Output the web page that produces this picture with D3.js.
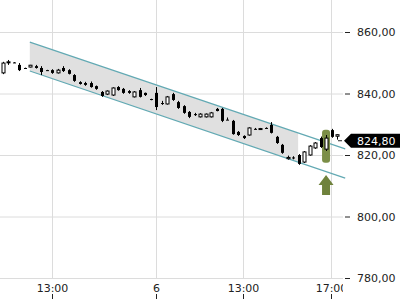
<!DOCTYPE html>
<html>
<head>
<meta charset="utf-8">
<script src="https://cdn.jsdelivr.net/npm/d3@7"></script>
<style>
  body { margin: 0; background: #fff; }
  svg { display: block; font-family: "DejaVu Sans", sans-serif; }
</style>
</head>
<body>
<div id="chart"></div>
<script>
// 15-min candles, one slot per candle
const opens  = [846.7,850.2,850.1,849.3,848.3,848.6,848.9,848.3,847.6,847.6,846.7,848.3,847.6,846.0,843.7,843.4,843.4,842.4,840.5,839.8,839.5,842.1,841.5,840.8,838.9,841.1,840.2,838.2,840.2,836.9,836.6,839.8,837.2,835.9,834.0,833.3,832.4,832.4,832.4,835.0,835.0,831.5,831.1,827.5,826.2,826.5,828.5,828.4,828.8,829.8,825.9,823.3,818.8,819.2,820.0,817.7,820.0,822.3,825.5,821.9,828.1,826.1];
const highs  = [850.3,850.9,850.2,849.9,848.4,849.3,849.3,848.9,847.7,847.9,848.0,848.9,847.9,846.3,844.0,843.8,843.9,842.6,840.8,841.0,842.0,842.4,841.8,841.1,840.8,841.8,840.3,838.3,842.1,837.6,839.2,840.2,837.6,836.2,834.3,833.7,833.6,833.5,834.0,835.3,835.3,832.2,831.4,827.8,826.4,829.0,828.8,828.8,829.0,830.7,826.2,823.6,819.8,819.6,820.3,821.3,823.2,824.2,826.0,826.5,828.5,826.7];
const lows   = [846.3,849.3,849.9,847.3,848.1,848.5,848.1,846.0,847.4,846.4,846.5,847.0,846.2,843.8,842.9,842.5,841.9,841.2,838.9,839.5,839.2,840.9,839.9,839.9,838.7,838.7,839.2,837.8,834.6,836.3,836.4,837.6,835.0,833.4,832.0,832.7,832.2,832.2,832.2,834.2,830.7,831.4,826.6,826.2,825.2,826.3,828.3,828.2,828.6,827.0,823.6,820.4,818.5,818.6,816.8,817.4,819.8,822.0,822.3,821.3,825.6,825.0];
const closes = [849.9,850.3,850.0,847.6,848.2,849.2,848.3,847.0,847.5,846.7,847.6,847.3,846.4,844.1,843.1,842.8,842.1,841.5,839.2,840.8,841.8,841.1,840.2,840.2,840.5,838.9,839.5,837.9,835.6,836.6,838.9,837.9,835.3,833.7,832.4,833.0,833.3,833.3,833.7,834.3,831.1,831.4,826.8,826.5,825.5,828.8,828.4,828.6,828.7,827.2,823.9,820.7,819.2,819.0,817.1,821.0,822.9,823.9,822.6,825.5,825.9,826.6];

const priceTicks = [780, 800, 820, 840, 860];
const timeLabels = ["13:00", "6", "13:00", "17:00"];
const timeSlots  = [9, 28, 43.8, 59.9];

// trend channel (slot, price)
const channelSlots = [4.9, 62.5];
const channelUpper = [856.7, 822.0];
const channelLower = [847.3, 812.5];
const channelFillEnd = 53.9;

// signal marker
const signalSlot = 59;
const signalRange = [828.2, 817.5];
const arrowTop = 813.5;

const lastPrice = 824.80;

const W = 400, H = 300;
const plotRight = 343, plotBottom = 278;

const svg = d3.select('#chart').append('svg')
    .attr('width', W)
    .attr('height', H);

const x = d3.scaleLinear().domain([0, opens.length - 1]).range([3, 337]);
const y = d3.scaleLinear().domain([780, 860]).range([278, 32]);
const fmt = d => d3.format('.2f')(d).replace('.', ',');

// grid
svg.append('g').selectAll('line.h')
    .data(priceTicks)
    .join('line')
    .attr('x1', 0).attr('x2', plotRight)
    .attr('y1', d => y(d) + 0.5).attr('y2', d => y(d) + 0.5)
    .attr('stroke', '#dcdcdc');
svg.append('g').selectAll('line.v')
    .data(timeSlots)
    .join('line')
    .attr('x1', d => Math.round(x(d)) + 0.5).attr('x2', d => Math.round(x(d)) + 0.5)
    .attr('y1', 0).attr('y2', plotBottom)
    .attr('stroke', '#dcdcdc');

// channel
const up = d3.scaleLinear().domain(channelSlots).range(channelUpper);
const lo = d3.scaleLinear().domain(channelSlots).range(channelLower);
const s0 = channelSlots[0], s1 = channelSlots[1];
svg.append('path')
    .attr('d', `M${x(s0)},${y(up(s0))}L${x(channelFillEnd)},${y(up(channelFillEnd))}L${x(channelFillEnd)},${y(lo(channelFillEnd))}L${x(s0)},${y(lo(s0))}Z`)
    .attr('fill', '#e0e0e0');
[up, lo].forEach(f => {
    svg.append('line')
        .attr('x1', x(s0)).attr('y1', y(f(s0)))
        .attr('x2', x(s1)).attr('y2', y(f(s1)))
        .attr('stroke', '#62a9b3')
        .attr('stroke-width', 1.2);
});

// signal bar + arrow
const sx = x(signalSlot);
svg.append('rect')
    .attr('x', sx - 4).attr('y', y(signalRange[0]))
    .attr('width', 8).attr('height', y(signalRange[1]) - y(signalRange[0]))
    .attr('rx', 3)
    .attr('fill', '#7b8e47');
const ay = y(arrowTop);
svg.append('path')
    .attr('d', `M${sx},${ay}L${sx + 7.5},${ay + 10}L${sx + 4},${ay + 10}L${sx + 4},${ay + 20}L${sx - 4},${ay + 20}L${sx - 4},${ay + 10}L${sx - 7.5},${ay + 10}Z`)
    .attr('fill', '#6f823c');

// candles
const idx = d3.range(opens.length);
const cg = svg.append('g');
cg.selectAll('line')
    .data(idx)
    .join('line')
    .attr('x1', i => Math.round(x(i)) + 0.5).attr('x2', i => Math.round(x(i)) + 0.5)
    .attr('y1', i => y(highs[i])).attr('y2', i => y(lows[i]))
    .attr('stroke', '#000');
cg.selectAll('rect')
    .data(idx)
    .join('rect')
    .attr('x', i => Math.round(x(i)) - 1)
    .attr('y', i => y(Math.max(opens[i], closes[i])))
    .attr('width', 3)
    .attr('height', i => Math.max(1, Math.abs(y(opens[i]) - y(closes[i]))))
    .attr('fill', i => closes[i] > opens[i] ? '#fff' : '#000')
    .attr('stroke', '#000')
    .attr('stroke-width', i => closes[i] > opens[i] ? 1 : 0);

// y axis on the right
const yAxis = svg.append('g')
    .attr('transform', `translate(345,0)`)
    .call(d3.axisRight(y).tickValues(priceTicks).tickSize(5).tickPadding(7).tickFormat(fmt));
yAxis.select('.domain').remove();
yAxis.selectAll('line').attr('stroke', '#222');
yAxis.selectAll('text').attr('font-size', 11).attr('fill', '#222').attr('font-family', '"DejaVu Sans", sans-serif');

// x axis labels above tick marks
svg.append('clipPath').attr('id', 'xclip')
    .append('rect').attr('x', 0).attr('y', 0).attr('width', plotRight).attr('height', H);
const xg = svg.append('g').attr('clip-path', 'url(#xclip)');
xg.selectAll('text')
    .data(timeSlots)
    .join('text')
    .attr('x', d => Math.round(x(d)) + 0.5)
    .attr('y', 292)
    .attr('text-anchor', 'middle')
    .attr('font-size', 11)
    .attr('fill', '#222')
    .text((d, i) => timeLabels[i]);
xg.selectAll('line')
    .data(timeSlots)
    .join('line')
    .attr('x1', d => Math.round(x(d)) + 0.5).attr('x2', d => Math.round(x(d)) + 0.5)
    .attr('y1', 294).attr('y2', 299)
    .attr('stroke', '#222');

// last price label
const ly = y(lastPrice);
svg.append('line')
    .attr('x1', 338).attr('x2', 342)
    .attr('y1', ly + 0.5).attr('y2', ly + 0.5)
    .attr('stroke', '#222');
svg.append('path')
    .attr('d', `M344,${ly + 0.5}L351,${ly - 6.5}L400,${ly - 6.5}L400,${ly + 7.5}L351,${ly + 7.5}Z`)
    .attr('fill', '#000');
svg.append('text')
    .attr('x', 357).attr('y', ly + 4.5)
    .attr('font-size', 11)
    .attr('fill', '#fff')
    .text(fmt(lastPrice));
</script>
</body>
</html>
